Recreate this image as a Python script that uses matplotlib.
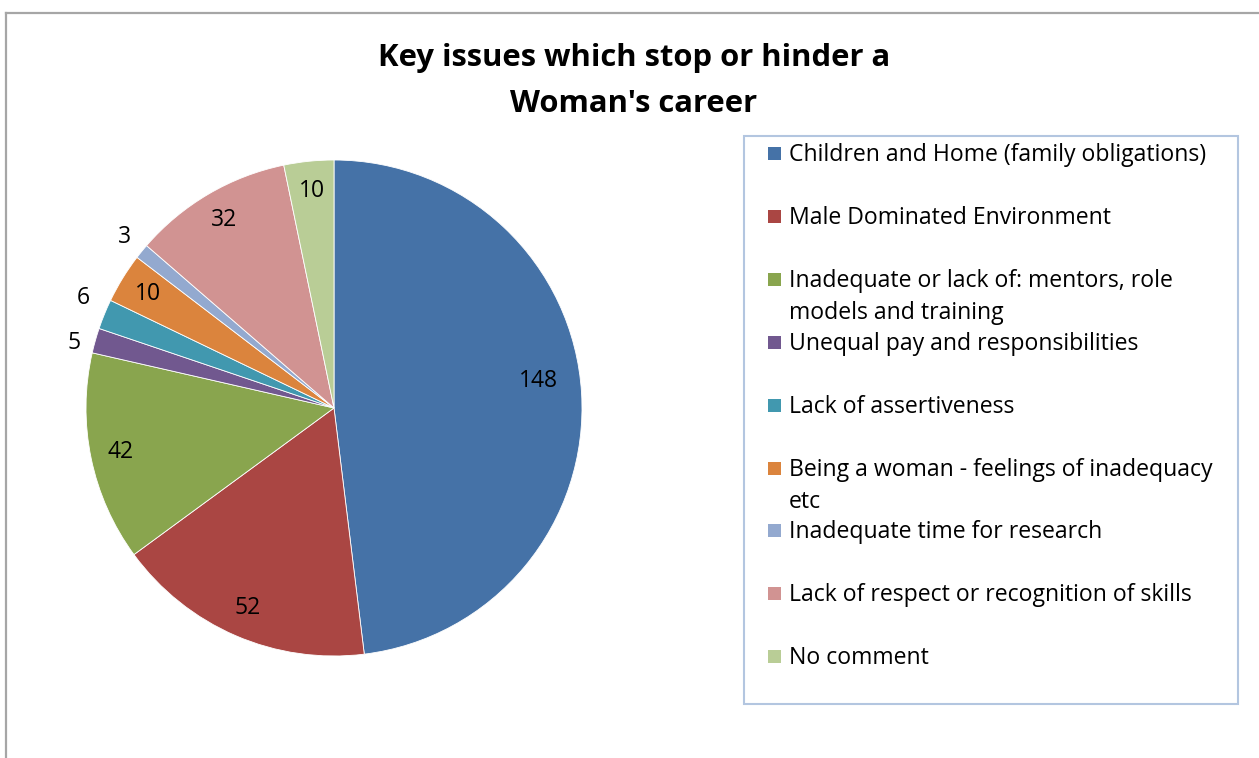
import numpy as np
import matplotlib
matplotlib.use("Agg")
import matplotlib.pyplot as plt
from matplotlib.patches import Rectangle
from matplotlib.lines import Line2D

plt.rcParams['font.family'] = ['Open Sans', 'DejaVu Sans']

categories = [
    "Children and Home (family obligations)",
    "Male Dominated Environment",
    "Inadequate or lack of: mentors, role\nmodels and training",
    "Unequal pay and responsibilities",
    "Lack of assertiveness",
    "Being a woman - feelings of inadequacy\netc",
    "Inadequate time for research",
    "Lack of respect or recognition of skills",
    "No comment",
]
values = [148, 52, 42, 5, 6, 10, 3, 32, 10]
colors = ["#4572A7", "#AA4643", "#89A54E", "#71588F", "#4198AF",
          "#DB843D", "#93A9CF", "#D19392", "#B9CD96"]
title_lines = ["Key issues which stop or hinder a", "Woman's career"]

W, H = 1259, 758
fig = plt.figure(figsize=(W / 100, H / 100), dpi=100)

# outer chart frame (left and top edges visible)
fig.add_artist(Line2D([6 / W, 6 / W], [0, 1 - 13 / H], color="#a6a6a6", lw=1.6))
fig.add_artist(Line2D([6 / W, 1], [1 - 13 / H, 1 - 13 / H], color="#a6a6a6", lw=1.6))

# pie axes: centre (334, 408) px, radius 248 px
cx, cy, r = 334, 408, 248
ax = fig.add_axes([(cx - r) / W, (H - cy - r) / H, 2 * r / W, 2 * r / H])
wedges, _ = ax.pie(values, colors=colors, startangle=90, counterclock=False,
                   wedgeprops=dict(edgecolor="white", linewidth=0.6))
ax.set_xlim(-1, 1)
ax.set_ylim(-1, 1)
ax.set_aspect("equal")
ax.axis("off")

total = float(sum(values))
inside, outside = [], []
for w, v in zip(wedges, values):
    mid = np.deg2rad((w.theta1 + w.theta2) / 2)
    if v / total < 0.025:
        outside.append([1.09 * np.cos(mid), 1.09 * np.sin(mid), v])
    else:
        if v / total > 0.4:
            dist, mid = 0.83, mid + np.deg2rad(4)
        else:
            dist = 0.88
        inside.append([dist * np.cos(mid), dist * np.sin(mid), v])

# push outside labels apart vertically so they do not crowd
gap = 45 / r
outside.sort(key=lambda t: t[1])
for _ in range(20):
    for a, b in zip(outside[:-1], outside[1:]):
        d = b[1] - a[1]
        if d < gap:
            shift = (gap - d) / 2
            a[1] -= shift
            b[1] += shift

for x, y, v in inside + outside:
    ax.text(x, y, str(v), ha="center", va="center", fontsize=16.5, color="black")

for k, line in enumerate(title_lines):
    fig.text(634 / W, 1 - (58 + 46 * k) / H, line, ha="center", va="center",
             fontsize=22.3, fontweight="bold")

# legend box
lx0, ly0, lx1, ly1 = 744, 136, 1238, 704
fig.add_artist(Rectangle((lx0 / W, 1 - ly1 / H), (lx1 - lx0) / W, (ly1 - ly0) / H,
                         fill=False, edgecolor="#b3c6e0", lw=1.5))
for i, (lab, col) in enumerate(zip(categories, colors)):
    y = 153 + i * 62.9
    fig.add_artist(Rectangle((768 / W, 1 - (y + 7) / H), 13 / W, 13 / H,
                             facecolor=col, edgecolor="none"))
    for k, part in enumerate(lab.split("\n")):
        fig.text(789 / W, 1 - (y + 2 + 32 * k) / H, part, ha="left", va="center",
                 fontsize=16.6)

fig.savefig("out.png", dpi=100, facecolor="white")
